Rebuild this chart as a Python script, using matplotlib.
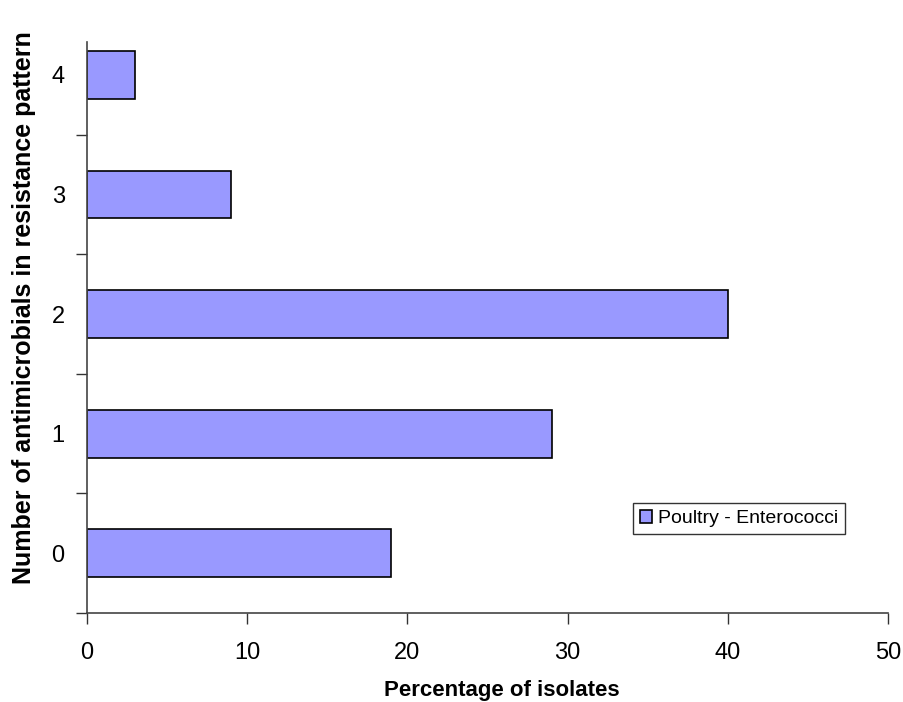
import matplotlib.pyplot as plt
from matplotlib.ticker import FixedLocator, NullFormatter

plt.rcParams["font.family"] = ["Liberation Sans", "DejaVu Sans"]

# number of antimicrobials in the resistance pattern
categories = [0, 1, 2, 3, 4]
# percentage of poultry enterococci isolates
percentages = [19, 29, 40, 9, 3]
series_name = "Poultry - Enterococci"


def plot_resistance():
    fig = plt.figure(figsize=(9.04, 7.02), dpi=100)
    ax = fig.add_axes([0.0962, 0.1268, 0.8861, 0.8134])

    ax.barh(categories, percentages, height=0.4, color="#9999FF",
            edgecolor="black", linewidth=1.2, label=series_name)

    ax.set_xlim(0, 50)
    ax.set_ylim(-0.5, 4.275)
    ax.set_xticks(range(0, 51, 10))
    ax.set_yticks(categories)

    # tick marks sit between the categories, labels at the bar centres
    ax.tick_params(axis="y", which="major", length=0, pad=16, labelsize=17)
    ax.yaxis.set_minor_locator(FixedLocator([-0.5, 0.5, 1.5, 2.5, 3.5]))
    ax.yaxis.set_minor_formatter(NullFormatter())
    ax.tick_params(axis="y", which="minor", length=8, width=1, color="#333333")
    ax.tick_params(axis="x", length=8, width=1, color="#333333", pad=13,
                   labelsize=17)

    for side in ["top", "right"]:
        ax.spines[side].set_visible(False)
    for side in ["left", "bottom"]:
        ax.spines[side].set_color("#444444")
        ax.spines[side].set_linewidth(1.2)

    ax.set_xlabel("Percentage of isolates", fontsize=16, fontweight="bold",
                  va="top")
    ax.xaxis.set_label_coords(0.518, -0.117)
    ax.set_ylabel("Number of antimicrobials in resistance pattern",
                  fontsize=18, fontweight="bold")
    ax.yaxis.set_label_coords(-0.064, 0.534)

    leg = ax.legend(loc="center", bbox_to_anchor=(0.814, 0.165), fontsize=14,
                    frameon=True, fancybox=False, edgecolor="black",
                    handlelength=0.6, handleheight=0.6, handletextpad=0.3,
                    borderpad=0.35, borderaxespad=0)
    leg.get_frame().set_linewidth(1.0)

    fig.savefig("out.png", dpi=100)


if __name__ == "__main__":
    plot_resistance()
